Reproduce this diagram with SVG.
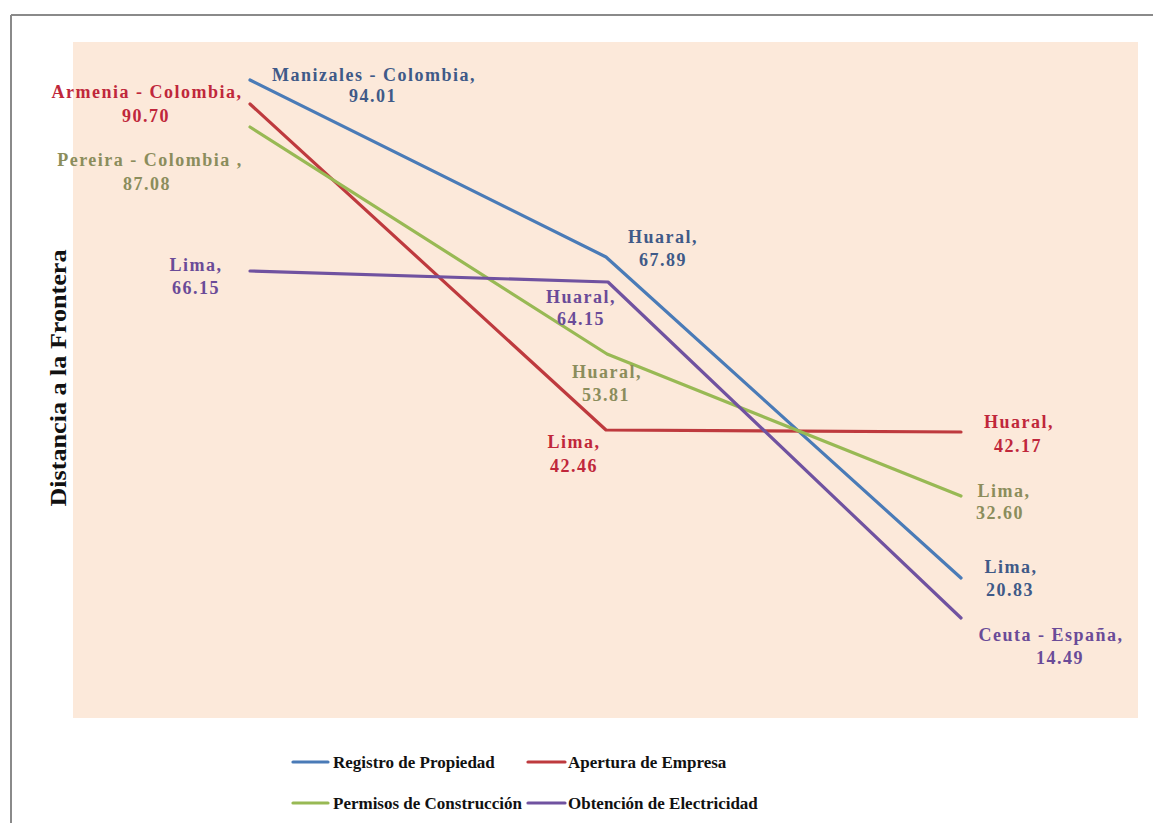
<svg xmlns="http://www.w3.org/2000/svg" width="1153" height="823" viewBox="0 0 1153 823">
<style>
.lbl{font-family:"Liberation Serif","Times New Roman",serif;font-weight:bold;font-size:18px;letter-spacing:1.5px;text-anchor:middle}
.leg{font-family:"Liberation Serif","Times New Roman",serif;font-weight:bold;font-size:17px}
.ser{fill:none;stroke-width:3.2;stroke-linejoin:round;stroke-linecap:round}
.blue{stroke:#4a7bb7}.red{stroke:#be3a3e}.green{stroke:#98b954}.purple{stroke:#7052a0}
.tb{fill:#3f5a88}.tr{fill:#c0273b}.tg{fill:#8b8d5c}.tp{fill:#6a4b98}
</style>
<rect x="0" y="0" width="1153" height="823" fill="#ffffff"/>
<rect x="73" y="42" width="1065" height="676" fill="#fce9da"/>
<line x1="11" y1="15" x2="1153" y2="15" stroke="#8a8a8a" stroke-width="2"/>
<line x1="11" y1="15" x2="11" y2="823" stroke="#8a8a8a" stroke-width="2"/>
<text transform="translate(66,378) rotate(-90)" font-family="'Liberation Serif','Times New Roman',serif" font-weight="bold" font-size="24" text-anchor="middle" textLength="257" lengthAdjust="spacingAndGlyphs" fill="#111">Distancia a la Frontera</text>
<g id="connectors">
<polyline id="s-registro" class="ser blue" points="250,80 606,257 961,578"/>
<polyline id="s-apertura" class="ser red" points="250,104 606,430 961,432"/>
<polyline id="s-permisos" class="ser green" points="250,127 607,354 961,496"/>
<polyline id="s-electricidad" class="ser purple" points="250,271 608,282 961,618"/>
</g>
<g id="labels-registro">
<text class="lbl tb" x="374" y="81">Manizales - Colombia,</text>
<text class="lbl tb" x="373" y="102">94.01</text>
<text class="lbl tb" x="663" y="243">Huaral,</text>
<text class="lbl tb" x="663" y="266">67.89</text>
<text class="lbl tb" x="1011" y="573">Lima,</text>
<text class="lbl tb" x="1010" y="596">20.83</text>
</g>
<g id="labels-apertura">
<text class="lbl tr" x="147" y="98">Armenia - Colombia,</text>
<text class="lbl tr" x="146" y="122">90.70</text>
<text class="lbl tr" x="574" y="448">Lima,</text>
<text class="lbl tr" x="574" y="472">42.46</text>
<text class="lbl tr" x="1019" y="428">Huaral,</text>
<text class="lbl tr" x="1018" y="452">42.17</text>
</g>
<g id="labels-permisos">
<text class="lbl tg" x="150" y="166">Pereira - Colombia ,</text>
<text class="lbl tg" x="147" y="190">87.08</text>
<text class="lbl tg" x="607" y="378">Huaral,</text>
<text class="lbl tg" x="606" y="401">53.81</text>
<text class="lbl tg" x="1004" y="497">Lima,</text>
<text class="lbl tg" x="1000" y="519">32.60</text>
</g>
<g id="labels-electricidad">
<text class="lbl tp" x="196" y="271">Lima,</text>
<text class="lbl tp" x="196" y="294">66.15</text>
<text class="lbl tp" x="581" y="303">Huaral,</text>
<text class="lbl tp" x="581" y="325">64.15</text>
<text class="lbl tp" x="1051" y="641">Ceuta - España,</text>
<text class="lbl tp" x="1060" y="664">14.49</text>
</g>
<g id="legend">
<line class="ser blue" x1="293" y1="762" x2="328" y2="762"/>
<text class="leg" x="333" y="768" fill="#111">Registro de Propiedad</text>
<line class="ser red" x1="528" y1="762" x2="565" y2="762"/>
<text class="leg" x="568" y="768" fill="#111">Apertura de Empresa</text>
<line class="ser green" x1="293" y1="803" x2="328" y2="803"/>
<text class="leg" x="333" y="809" fill="#111">Permisos de Construcción</text>
<line class="ser purple" x1="528" y1="803" x2="565" y2="803"/>
<text class="leg" x="568" y="809" fill="#111">Obtención de Electricidad</text>
</g>
</svg>
